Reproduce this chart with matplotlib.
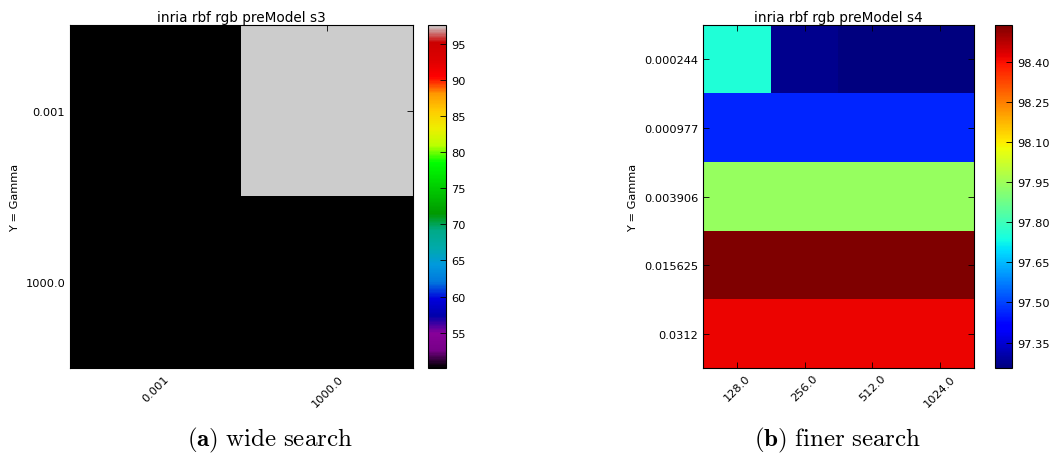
import numpy as np
import matplotlib
matplotlib.use("Agg")
import matplotlib.pyplot as plt
from matplotlib.ticker import FormatStrFormatter

plt.rcParams["font.family"] = "DejaVu Sans"
plt.rcParams["mathtext.fontset"] = "cm"

# Wide grid search (s3)
wide_c = ["0.001", "1000.0"]
wide_gamma = ["0.001", "1000.0"]
wide_acc = [
    [50.1, 97.6],
    [50.1, 50.1],
]
wide_cb_ticks = [55, 60, 65, 70, 75, 80, 85, 90, 95]

# Finer grid search (s4)
fine_c = ["128.0", "256.0", "512.0", "1024.0"]
fine_gamma = ["0.000244", "0.000977", "0.003906", "0.015625", "0.0312"]
fine_acc = [
    [97.755, 97.275, 97.255, 97.255],
    [97.463, 97.463, 97.463, 97.463],
    [97.941, 97.941, 97.941, 97.941],
    [98.537, 98.537, 98.537, 98.537],
    [98.415, 98.415, 98.415, 98.415],
]
fine_cb_ticks = [97.35, 97.50, 97.65, 97.80, 97.95, 98.10, 98.25, 98.40]

W, H = 1062, 456
fig = plt.figure(figsize=(W / 100, H / 100), dpi=100, facecolor="white")

def px(x0, y_top, w, h):
    return [x0 / W, (H - y_top - h) / H, w / W, h / H]

FS = 8.2

def heatmap(ax_rect, cb_rect, data, xlabels, ylabels, cmap, title, cb_ticks, fmt):
    ax = fig.add_axes(px(*ax_rect))
    arr = np.array(data)
    im = ax.imshow(arr, cmap=cmap, interpolation="nearest", aspect="auto")
    ax.set_xticks(range(len(xlabels)))
    ax.set_xticklabels(xlabels, rotation=45, fontsize=FS)
    ax.set_yticks(range(len(ylabels)))
    ax.set_yticklabels(ylabels, fontsize=FS)
    ax.tick_params(direction="in", top=True, right=True, length=4, width=0.6)
    ax.set_ylabel("Y = Gamma", fontsize=FS)
    ax.set_title(title, fontsize=9.8, pad=3)
    for s in ax.spines.values():
        s.set_linewidth(0.8)
    cax = fig.add_axes(px(*cb_rect))
    cb = fig.colorbar(im, cax=cax, ticks=cb_ticks)
    cb.ax.yaxis.set_major_formatter(FormatStrFormatter(fmt))
    cb.ax.tick_params(labelsize=FS, direction="in", length=4, width=0.6)
    cb.outline.set_linewidth(0.8)
    return ax

heatmap((70, 26, 343, 343), (428, 26, 18, 343), wide_acc, wide_c, wide_gamma,
        "nipy_spectral", "inria rbf rgb preModel s3", wide_cb_ticks, "%d")
heatmap((703, 26, 271, 343), (995, 26, 17, 343), fine_acc, fine_c, fine_gamma,
        "jet", "inria rbf rgb preModel s4", fine_cb_ticks, "%.2f")

fig.text(270 / W, 1 - 440 / H, r"$\mathbf{(a)}\ \mathrm{wide\ search}$",
         ha="center", va="center", fontsize=18)
fig.text(837 / W, 1 - 440 / H, r"$\mathbf{(b)}\ \mathrm{finer\ search}$",
         ha="center", va="center", fontsize=18)

fig.savefig("out.png", dpi=100, facecolor="white")
